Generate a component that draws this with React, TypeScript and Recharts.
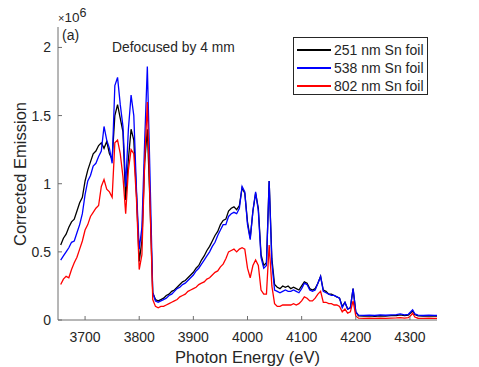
import { LineChart, Line, XAxis, YAxis } from "recharts";

// photon energy (eV)
const energy = [
  3655, 3660, 3665, 3670, 3675, 3680, 3685, 3690, 3695, 3700,
  3705, 3710, 3715, 3720, 3725, 3730, 3735, 3740, 3745, 3750,
  3755, 3760, 3765, 3770, 3775, 3780, 3785, 3790, 3795, 3800,
  3805, 3810, 3815, 3820, 3825, 3830, 3835, 3840, 3845, 3850,
  3855, 3860, 3865, 3870, 3875, 3880, 3885, 3890, 3895, 3900,
  3905, 3910, 3915, 3920, 3925, 3930, 3935, 3940, 3945, 3950,
  3955, 3960, 3965, 3970, 3975, 3980, 3985, 3990, 3995, 4000,
  4005, 4010, 4015, 4020, 4025, 4030, 4035, 4040, 4045, 4050,
  4055, 4060, 4065, 4070, 4075, 4080, 4085, 4090, 4095, 4100,
  4105, 4110, 4115, 4120, 4125, 4130, 4135, 4140, 4145, 4150,
  4155, 4160, 4165, 4170, 4175, 4180, 4185, 4190, 4195, 4200,
  4205, 4215, 4225, 4235, 4245, 4255, 4265, 4275, 4282, 4290,
  4297, 4302, 4305, 4309, 4315, 4325, 4335, 4345, 4350,
];

// corrected emission, x10^6
const foil251 = [
  0.55, 0.60, 0.63, 0.68, 0.72, 0.74, 0.80, 0.86, 0.90, 1.02,
  1.10, 1.16, 1.22, 1.24, 1.28, 1.30, 1.26, 1.31, 1.22, 1.18,
  1.50, 1.58, 1.48, 1.38, 0.88, 1.18, 1.40, 1.32, 0.92, 0.43,
  0.58, 1.15, 1.40, 0.85, 0.20, 0.15, 0.14, 0.15, 0.16, 0.18,
  0.19, 0.21, 0.22, 0.24, 0.26, 0.28, 0.29, 0.31, 0.33, 0.35,
  0.38, 0.40, 0.44, 0.47, 0.51, 0.54, 0.58, 0.62, 0.65, 0.70,
  0.73, 0.74, 0.80, 0.82, 0.83, 0.81, 0.84, 0.97, 0.93, 0.72,
  0.60, 0.80, 0.93, 0.82, 0.48, 0.40, 0.42, 1.02, 0.45, 0.26,
  0.24, 0.23, 0.25, 0.24, 0.25, 0.23, 0.24, 0.23, 0.22, 0.25,
  0.28, 0.27, 0.23, 0.22, 0.23, 0.27, 0.32, 0.22, 0.21, 0.19,
  0.19, 0.18, 0.17, 0.16, 0.10, 0.13, 0.08, 0.09, 0.23, 0.06,
  0.030, 0.028, 0.030, 0.027, 0.031, 0.029, 0.032, 0.033, 0.038, 0.032,
  0.035, 0.055, 0.068, 0.040, 0.030, 0.028, 0.030, 0.029, 0.028,
];

const foil538 = [
  0.44, 0.47, 0.50, 0.53, 0.57, 0.58, 0.64, 0.70, 0.78, 0.92,
  1.02, 1.06, 1.13, 1.15, 1.20, 1.24, 1.42, 1.32, 1.26, 1.15,
  1.72, 1.78, 1.58, 1.42, 0.98, 1.40, 1.65, 1.50, 0.95, 0.52,
  0.68, 1.30, 1.86, 1.05, 0.20, 0.14, 0.13, 0.14, 0.15, 0.16,
  0.18, 0.19, 0.21, 0.23, 0.24, 0.26, 0.27, 0.29, 0.31, 0.33,
  0.36, 0.38, 0.41, 0.44, 0.47, 0.50, 0.54, 0.57, 0.62, 0.66,
  0.70, 0.70, 0.76, 0.78, 0.79, 0.78, 0.82, 0.98, 0.94, 0.70,
  0.59, 0.80, 0.94, 0.80, 0.46, 0.38, 0.40, 1.02, 0.42, 0.22,
  0.21, 0.20, 0.21, 0.22, 0.21, 0.21, 0.22, 0.21, 0.20, 0.23,
  0.27, 0.26, 0.22, 0.21, 0.22, 0.27, 0.32, 0.21, 0.20, 0.19,
  0.18, 0.18, 0.17, 0.16, 0.09, 0.13, 0.08, 0.09, 0.23, 0.06,
  0.036, 0.034, 0.036, 0.033, 0.037, 0.035, 0.038, 0.040, 0.045, 0.038,
  0.042, 0.062, 0.075, 0.045, 0.036, 0.033, 0.036, 0.034, 0.033,
];

const foil802 = [
  0.26, 0.30, 0.32, 0.31, 0.37, 0.42, 0.46, 0.52, 0.58, 0.66,
  0.70, 0.76, 0.79, 0.82, 0.84, 0.98, 1.03, 0.96, 0.94, 0.90,
  1.30, 1.32, 1.22, 1.05, 0.78, 1.10, 1.25, 1.22, 0.88, 0.37,
  0.48, 1.15, 1.60, 0.85, 0.15, 0.10, 0.09, 0.10, 0.10, 0.11,
  0.12, 0.13, 0.14, 0.15, 0.17, 0.18, 0.19, 0.21, 0.22, 0.23,
  0.24, 0.26, 0.27, 0.28, 0.30, 0.31, 0.33, 0.35, 0.36, 0.39,
  0.41, 0.45, 0.50, 0.51, 0.52, 0.50, 0.52, 0.53, 0.52, 0.38,
  0.31, 0.40, 0.44, 0.40, 0.22, 0.19, 0.19, 0.55, 0.25, 0.12,
  0.10, 0.10, 0.11, 0.11, 0.11, 0.11, 0.12, 0.11, 0.12, 0.14,
  0.17, 0.16, 0.14, 0.14, 0.16, 0.19, 0.21, 0.13, 0.13, 0.12,
  0.12, 0.11, 0.11, 0.10, 0.06, 0.08, 0.05, 0.06, 0.14, 0.03,
  0.013, 0.012, 0.014, 0.012, 0.013, 0.012, 0.014, 0.015, 0.018, 0.014,
  0.017, 0.035, 0.050, 0.022, 0.013, 0.012, 0.013, 0.012, 0.012,
];

const xTicks = [3700, 3800, 3900, 4000, 4100, 4200, 4300];
const yTicks = [0, 0.5, 1, 1.5, 2];

const series = [
  { key: "b", name: "251 nm Sn foil", color: "#000000" },
  { key: "u", name: "538 nm Sn foil", color: "#0000ff" },
  { key: "r", name: "802 nm Sn foil", color: "#ff0000" },
];

const data = energy.map((e, i) => ({ energy: e, b: foil251[i], u: foil538[i], r: foil802[i] }));

const AX = "#6e6e6e";
const TXT = "#262626";
const FONT = '"Liberation Sans", Arial, sans-serif';

const BottomTick = ({ x, y, payload }: any) => (
  <g>
    <line x1={x} x2={x} y1={y} y2={y - 4} stroke={AX} />
    <text x={x} y={y + 22} textAnchor="middle" fill={TXT} fontSize={14} fontFamily={FONT}>
      {payload.value}
    </text>
  </g>
);

const LeftTick = ({ x, y, payload }: any) => (
  <g>
    <line x1={x} x2={x + 4} y1={y} y2={y} stroke={AX} />
    <text x={x - 7} y={y + 5} textAnchor="end" fill={TXT} fontSize={14} fontFamily={FONT}>
      {payload.value}
    </text>
  </g>
);

const TopTick = ({ x, y }: any) => <line x1={x} x2={x} y1={y} y2={y + 4} stroke={AX} />;
const RightTick = ({ x, y }: any) => <line x1={x} x2={x - 4} y1={y} y2={y} stroke={AX} />;

export default function App() {
  return (
    <div style={{ position: "absolute", left: 0, top: 0, width: 479, height: 367, background: "#fff", fontFamily: FONT, color: TXT }}>
      <LineChart width={479} height={367} data={data} margin={{ top: 27, right: 42, bottom: 0, left: 18 }}>
        <XAxis
          dataKey="energy"
          type="number"
          domain={[3650, 4350]}
          ticks={xTicks}
          interval={0}
          allowDataOverflow
          height={47}
          tickSize={0}
          tickMargin={0}
          tickLine={false}
          axisLine={{ stroke: AX }}
          tick={<BottomTick />}
        />
        <XAxis
          xAxisId="top"
          orientation="top"
          dataKey="energy"
          type="number"
          domain={[3650, 4350]}
          ticks={xTicks}
          interval={0}
          allowDataOverflow
          height={0}
          tickSize={0}
          tickMargin={0}
          tickLine={false}
          axisLine={{ stroke: AX }}
          tick={<TopTick />}
        />
        <YAxis
          type="number"
          domain={[0, 2.15]}
          ticks={yTicks}
          interval={0}
          allowDataOverflow
          width={40}
          tickSize={0}
          tickMargin={0}
          tickLine={false}
          axisLine={{ stroke: AX }}
          tick={<LeftTick />}
        />
        <YAxis
          yAxisId="right"
          orientation="right"
          type="number"
          domain={[0, 2.15]}
          ticks={yTicks}
          interval={0}
          allowDataOverflow
          width={0}
          tickSize={0}
          tickMargin={0}
          tickLine={false}
          axisLine={{ stroke: AX }}
          tick={<RightTick />}
        />
        {series.map((s) => (
          <Line
            key={s.key}
            dataKey={s.key}
            name={s.name}
            type="linear"
            stroke={s.color}
            strokeWidth={1.3}
            dot={false}
            activeDot={false}
            isAnimationActive={false}
          />
        ))}
      </LineChart>

      <div style={{ position: "absolute", left: 58, top: 9, whiteSpace: "nowrap", lineHeight: "16px" }}>
        <span style={{ fontSize: 11 }}>×</span>
        <span style={{ fontSize: 13.5 }}>10</span>
        <span style={{ fontSize: 12.5, position: "relative", top: -5 }}>6</span>
      </div>
      <div style={{ position: "absolute", left: 62, top: 27, fontSize: 14 }}>(a)</div>
      <div style={{ position: "absolute", left: 112, top: 40, fontSize: 13.8, whiteSpace: "nowrap" }}>Defocused by 4 mm</div>

      <div
        style={{
          position: "absolute",
          left: 293,
          top: 37,
          width: 133,
          height: 56,
          border: `1px solid ${TXT}`,
          background: "#fff",
        }}
      >
        {series.map((s, i) => (
          <div key={s.key} style={{ position: "absolute", left: 0, top: 3 + i * 18, height: 18, display: "flex", alignItems: "center", whiteSpace: "nowrap" }}>
            <div style={{ width: 34, height: 1.5, background: s.color, marginLeft: 3, marginRight: 3 }} />
            <span style={{ fontSize: 14 }}>{s.name}</span>
          </div>
        ))}
      </div>

      <div style={{ position: "absolute", left: 0, width: 479, top: 348, paddingLeft: 16, boxSizing: "border-box", textAlign: "center", fontSize: 16.5 }}>
        Photon Energy (eV)
      </div>
      <div
        style={{
          position: "absolute",
          left: 20,
          top: 174,
          fontSize: 16.5,
          whiteSpace: "nowrap",
          transform: "translate(-50%, -50%) rotate(-90deg)",
        }}
      >
        Corrected Emission
      </div>
    </div>
  );
}
